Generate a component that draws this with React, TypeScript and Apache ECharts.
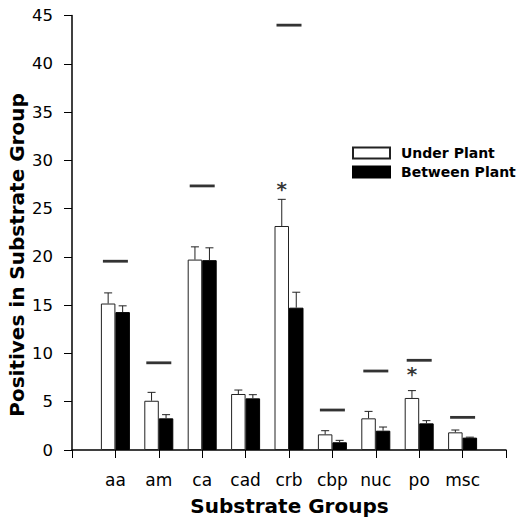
import React, { useEffect, useRef } from 'react';
import * as echarts from 'echarts';

const categories = ['aa', 'am', 'ca', 'cad', 'crb', 'cbp', 'nuc', 'po', 'msc'];
const underPlant = [15.17, 5.1, 19.72, 5.8, 23.2, 1.62, 3.28, 5.39, 1.83];
const underPlantSE = [1.1, 0.87, 1.32, 0.41, 2.76, 0.38, 0.72, 0.76, 0.24];
const betweenPlant = [14.28, 3.28, 19.66, 5.35, 14.74, 0.8, 2.0, 2.76, 1.28];
const betweenPlantSE = [0.65, 0.38, 1.28, 0.38, 1.6, 0.2, 0.38, 0.28, 0.05];
const referenceLevel = [19.55, 9.03, 27.35, null, 44.0, 4.14, 8.18, 9.29, 3.38];
const asteriskCats = ['crb', 'po'];
const asteriskLevels = [27.4, 8.3];
const yMin = 0;
const yMax = 45;
const yStep = 5;

const BAR_W = 14.5;
const FONT = 'DejaVu Sans';

const pad = (arr: (number | null)[]) => [null, ...arr, null];

export default function App() {
  const ref = useRef<HTMLDivElement>(null);
  useEffect(() => {
    if (!ref.current) return;
    const chart = echarts.init(ref.current, null, { renderer: 'svg' });
    const axisCats = ['', ...categories, ''];
    const errData: number[][] = [];
    categories.forEach((_, i) => {
      errData.push([i + 1, underPlant[i], underPlant[i] + underPlantSE[i], -1]);
      errData.push([i + 1, betweenPlant[i], betweenPlant[i] + betweenPlantSE[i], 1]);
    });
    chart.setOption({
      animation: false,
      backgroundColor: '#fff',
      grid: { left: 72, right: 12, top: 15.5, bottom: 73, containLabel: false },
      legend: {
        data: ['Under Plant', 'Between Plant'],
        orient: 'vertical',
        left: 352,
        top: 146,
        padding: 0,
        itemWidth: 37,
        itemHeight: 11,
        itemGap: 5,
        icon: 'rect',
        textStyle: { fontFamily: FONT, fontWeight: 'bold', fontSize: 14, color: '#000', padding: [0, 0, 0, 6] },
      },
      xAxis: {
        type: 'category',
        data: axisCats,
        boundaryGap: false,
        axisLine: { show: true, lineStyle: { color: '#000', width: 1.5 } },
        axisTick: { show: true, inside: false, length: 8, interval: 0, lineStyle: { color: '#000', width: 1 } },
        axisLabel: { interval: 0, margin: 21, fontSize: 17, color: '#000', fontFamily: FONT },
        splitLine: { show: false },
      },
      yAxis: {
        type: 'value',
        min: yMin,
        max: yMax,
        interval: yStep,
        axisLine: { show: true, lineStyle: { color: '#000', width: 1.5 } },
        axisTick: { show: true, inside: false, length: 8, lineStyle: { color: '#000', width: 1 } },
        axisLabel: { margin: 19, fontSize: 16.5, color: '#000', fontFamily: FONT },
        splitLine: { show: false },
      },
      graphic: [
        {
          type: 'text',
          x: 289.5,
          y: 506,
          style: { text: 'Substrate Groups', fontFamily: FONT, fontWeight: 'bold', fontSize: 20, fill: '#000', align: 'center', verticalAlign: 'middle' },
        },
        {
          type: 'text',
          x: 17,
          y: 255,
          rotation: Math.PI / 2,
          style: { text: 'Positives in Substrate Group', fontFamily: FONT, fontWeight: 'bold', fontSize: 20, fill: '#000', align: 'center', verticalAlign: 'middle' },
        },
      ],
      series: [
        {
          name: 'Under Plant',
          type: 'bar',
          data: pad(underPlant),
          barWidth: BAR_W,
          barGap: '0%',
          itemStyle: { color: '#fff', borderColor: '#222', borderWidth: 1 },
        },
        {
          name: 'Between Plant',
          type: 'bar',
          data: pad(betweenPlant),
          barWidth: BAR_W,
          barGap: '0%',
          itemStyle: { color: '#000', borderColor: '#000', borderWidth: 1 },
        },
        {
          name: 'err',
          type: 'custom',
          data: errData,
          encode: { x: 0, y: [1, 2] },
          z: 5,
          renderItem: (params: any, api: any) => {
            const x = api.value(0);
            const base = api.coord([x, api.value(1)]);
            const top = api.coord([x, api.value(2)]);
            const cx = base[0] + api.value(3) * (BAR_W / 2);
            return {
              type: 'group',
              children: [
                { type: 'line', shape: { x1: cx, y1: base[1], x2: cx, y2: top[1] }, style: { stroke: '#222', lineWidth: 1 } },
                { type: 'line', shape: { x1: cx - 4, y1: top[1], x2: cx + 4, y2: top[1] }, style: { stroke: '#222', lineWidth: 1 } },
              ],
            };
          },
        },
        {
          name: 'ref',
          type: 'scatter',
          data: pad(referenceLevel),
          symbol: 'rect',
          symbolSize: [25, 2.8],
          itemStyle: { color: '#000' },
          z: 5,
        },
        {
          name: 'sig',
          type: 'scatter',
          data: asteriskCats.map((c, i) => [c, asteriskLevels[i]]),
          symbolSize: 1,
          itemStyle: { color: 'rgba(0,0,0,0)' },
          label: {
            show: true,
            position: 'inside',
            formatter: '*',
            fontFamily: FONT,
            fontWeight: 'bold',
            fontSize: 20,
            color: '#000',
            offset: [-7.25, 4],
          },
          z: 6,
        },
      ],
    });
    return () => chart.dispose();
  }, []);
  return <div ref={ref} style={{ position: 'fixed', left: 0, top: 0, width: 518, height: 523 }} />;
}
